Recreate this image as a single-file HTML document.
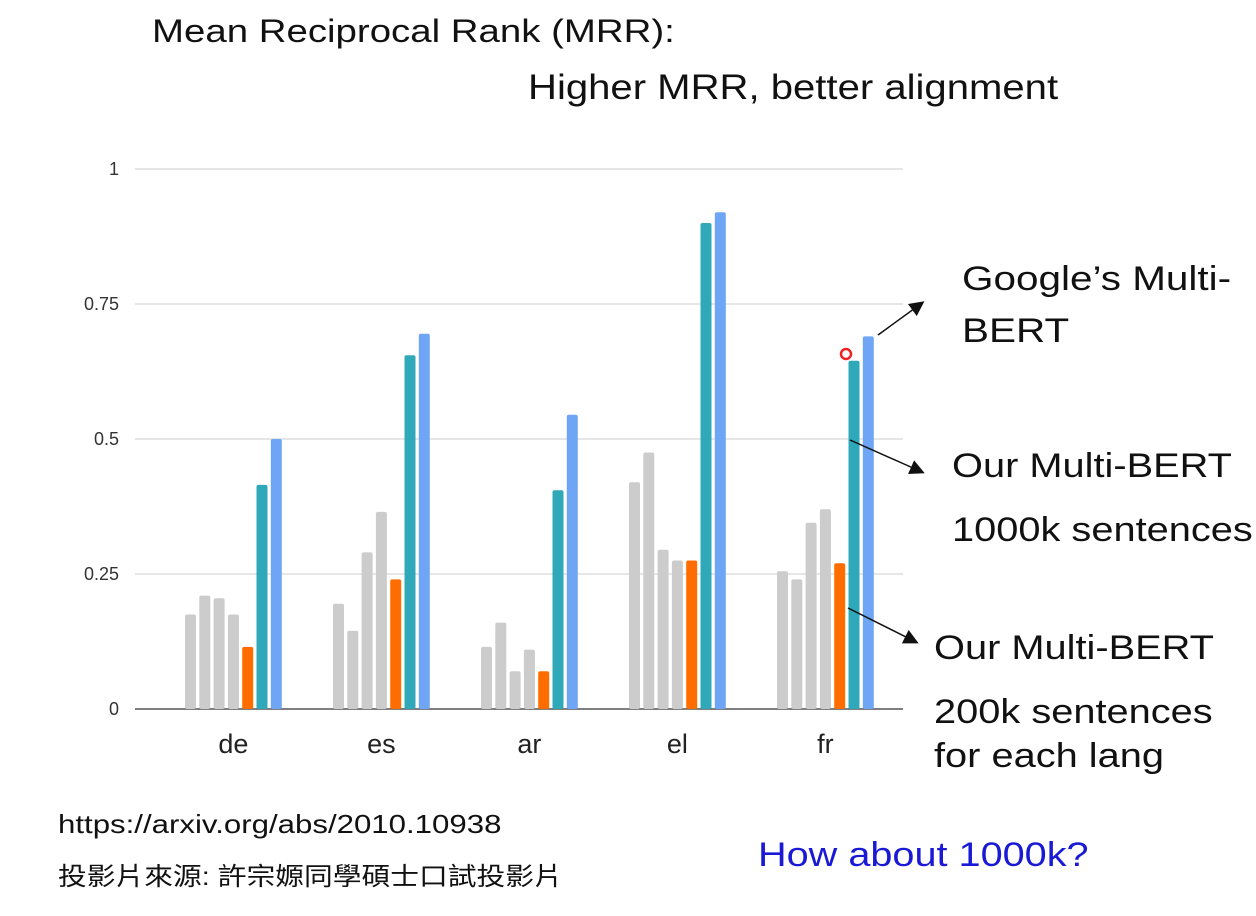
<!DOCTYPE html>
<html><head><meta charset="utf-8"><style>
body{margin:0;width:1256px;height:916px;background:#fff;overflow:hidden;position:relative;font-family:"Liberation Sans","Noto Sans CJK TC",sans-serif}
.t{position:absolute;white-space:nowrap;color:#111;transform-origin:left top}
</style></head><body>
<div class="t" style="left:152px;top:13px;font-size:32px;transform:scaleX(1.2)">Mean Reciprocal Rank (MRR):</div>
<div class="t" style="left:528px;top:68px;font-size:35px;transform:scaleX(1.145)">Higher MRR, better alignment</div>
<svg id="chart" width="1256" height="916" style="position:absolute;left:0;top:0"></svg>
<div class="t" style="left:962px;top:253px;font-size:34px;line-height:52px;transform:scaleX(1.19)">Google’s Multi-<br>BERT</div>
<div class="t" style="left:952px;top:434px;font-size:34px;line-height:64px;transform:scaleX(1.17)">Our Multi-BERT<br>1000k sentences</div>
<div class="t" style="left:934px;top:616px;font-size:34px;line-height:64px;transform:scaleX(1.17)">Our Multi-BERT<br>200k sentences</div>
<div class="t" style="left:934px;top:737px;font-size:34px;transform:scaleX(1.17)">for each lang</div>
<div class="t" style="left:58px;top:809px;font-size:26px;transform:scaleX(1.2)">https://arxiv.org/abs/2010.10938</div>
<div class="t" style="left:58px;top:857px;font-size:25px;transform:scaleX(1.15)">投影片來源: 許宗嫄同學碩士口試投影片</div>
<div class="t" style="left:758px;top:836px;font-size:34px;color:#1a1ad6;transform:scaleX(1.166)">How about 1000k?</div>
<script>
const categories=["de","es","ar","el","fr"];
const gray1=[0.175,0.195,0.115,0.42,0.255];
const gray2=[0.21,0.145,0.16,0.475,0.24];
const gray3=[0.205,0.29,0.07,0.295,0.345];
const gray4=[0.175,0.365,0.11,0.275,0.37];
const ours200k=[0.115,0.24,0.07,0.275,0.27];
const ours1000k=[0.415,0.655,0.405,0.9,0.645];
const google=[0.5,0.695,0.545,0.92,0.69];
const yTicks=[0,0.25,0.5,0.75,1];
const yTickLabels=["0","0.25","0.5","0.75","1"];
const series=[gray1,gray2,gray3,gray4,ours200k,ours1000k,google];
const seriesNames=["baseline-1","baseline-2","baseline-3","baseline-4","ours-200k","ours-1000k","google"];
const colors=["#cccccc","#cccccc","#cccccc","#cccccc","#ff6d01","#2fa9b9","#6ea6f5"];
const NS="http://www.w3.org/2000/svg";
const svg=document.getElementById('chart');
const y=v=>709-v*540;
const x0=185,groupW=148,pitch=14.3,bw=11;
function mk(t,a){const e=document.createElementNS(NS,t);for(const k in a)e.setAttribute(k,a[k]);svg.appendChild(e);return e;}
yTicks.forEach((v,i)=>{
 const l=mk('line',{x1:135,x2:903,y1:y(v),y2:y(v),stroke:v===0?'#555':'#ddd','stroke-width':1.5});
 
 
 const t=mk('text',{x:119,y:y(v)+6,'text-anchor':'end','font-size':18,fill:'#333','font-family':'Liberation Sans'});
 t.textContent=yTickLabels[i];
 
 
});
categories.forEach((c,g)=>{
 series.forEach((s,j)=>{
  const bx=x0+g*groupW+j*pitch;
  const r=mk('rect',{x:bx,y:y(s[g]),width:bw,height:709-y(s[g]),fill:colors[j],rx:2});
  
  
 });
 const t=mk('text',{x:x0+g*groupW+3*pitch+bw/2,y:753,'text-anchor':'middle','font-size':27,fill:'#222','font-family':'Liberation Sans'});
 t.textContent=c;
 
 
});
mk('defs',{}).innerHTML='<marker id="ah" markerWidth="10" markerHeight="10" refX="8" refY="5" orient="auto"><path d="M0,0 L10,5 L0,10 z" fill="#111"/></marker>';
[[878,335,922,303],[850,440,922,472],[848,608,916,642]].forEach(a=>{
 const l=mk('line',{x1:a[0],y1:a[1],x2:a[2],y2:a[3],stroke:'#111','stroke-width':1.5,'marker-end':'url(#ah)'});
 
 
});
const c=mk('circle',{cx:846,cy:354,r:5,fill:'none',stroke:'#e22','stroke-width':2.5});


</script>
</body></html>
